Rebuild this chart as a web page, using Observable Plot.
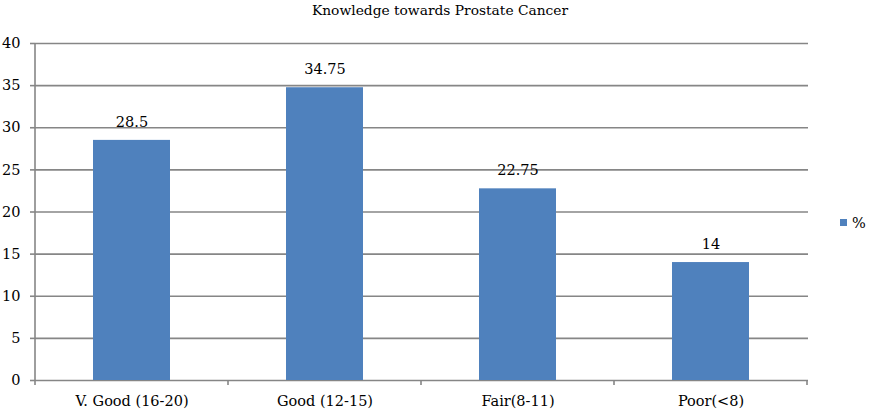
<!DOCTYPE html>
<html><head><meta charset="utf-8">
<script src="https://cdn.jsdelivr.net/npm/d3@7"></script>
<script src="https://cdn.jsdelivr.net/npm/@observablehq/plot@0.6"></script>
<style>body{margin:0;background:#fff}</style>
</head><body><div id="chart"></div>
<script>
const categories = ["V. Good (16-20)", "Good (12-15)", "Fair(8-11)", "Poor(<8)"];
const values = [28.5, 34.75, 22.75, 14];
const labels = ["28.5", "34.75", "22.75", "14"];
const yTicks = [0, 5, 10, 15, 20, 25, 30, 35, 40];
const title = "Knowledge towards Prostate Cancer";
const seriesName = "%";

const data = categories.map((c, i) => ({cat: c, v: values[i], label: labels[i]}));
const font = "'DejaVu Serif', serif";
const grid = "#868686";

const plot = Plot.plot({
  width: 871, height: 413,
  marginLeft: 35, marginRight: 63, marginTop: 43, marginBottom: 33,
  style: {fontFamily: font, fontSize: "14.5px", color: "#000", background: "#fff"},
  x: {domain: categories, paddingInner: 0.6, paddingOuter: 0.3, label: null},
  y: {domain: [0, 40], ticks: yTicks, label: null},
  marks: [
    Plot.ruleY(yTicks, {stroke: grid, strokeWidth: 1.6}),
    Plot.barY(data, {x: "cat", y: "v", fill: "#4F81BD"}),
    Plot.text(data, {x: "cat", y: "v", text: "label", dy: -18, fill: "#000", fontSize: 14.5}),
    Plot.axisY({ticks: yTicks, tickSize: 5, tickPadding: 10, stroke: grid, strokeWidth: 1.6, fontSize: 14.5}),
    Plot.axisX({tickSize: 0, tickPadding: 15, fontSize: 14.5}),
    Plot.text([title], {frameAnchor: "top", dx: 18, dy: -38, fontSize: 13.8, fill: "#000"})
  ]
});

const svg = d3.select(plot);
const xs = plot.scale("x");
const step = xs.step !== undefined ? xs.step : (808 - 35) / categories.length;
const x0 = 35, y0 = 413 - 33, y1 = 43;
// y-axis line
svg.append("line").attr("x1", x0).attr("x2", x0).attr("y1", y1).attr("y2", y0)
  .attr("stroke", grid).attr("stroke-width", 1.6);
// category boundary ticks
for (let i = 0; i <= categories.length; i++) {
  const xx = x0 + i * step;
  svg.append("line").attr("x1", xx).attr("x2", xx).attr("y1", y0).attr("y2", y0 + 5)
    .attr("stroke", grid).attr("stroke-width", 1.6);
}
// legend
svg.append("rect").attr("x", 840).attr("y", 219).attr("width", 7).attr("height", 7).attr("fill", "#4F81BD");
svg.append("text").attr("x", 852).attr("y", 228).attr("text-anchor", "start").attr("font-size", 14.5).attr("font-family", font).attr("fill", "#000").text(seriesName);

document.getElementById("chart").appendChild(plot);
</script>
</body></html>
